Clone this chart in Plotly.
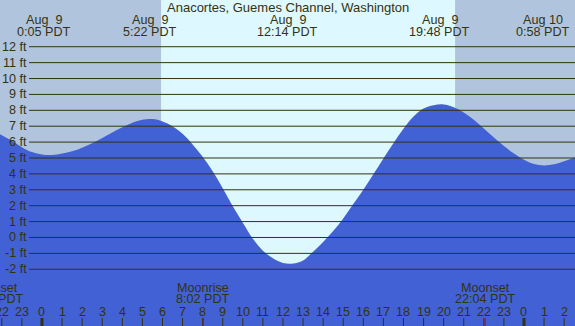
import plotly.graph_objects as go

# ---- data (hours relative to Aug 9 00:00 PDT) ----
hours = [-2.5, -2, -1.5, -1, -0.5, 0, 0.5, 1, 1.5, 2, 2.5, 3, 3.5, 4, 4.5, 5, 5.5, 6, 6.5,
         7, 7.5, 8, 8.5, 9, 9.5, 10, 10.5, 11, 11.5, 12, 12.5, 13, 13.5, 14, 14.5, 15,
         15.5, 16, 16.5, 17, 17.5, 18, 18.5, 19, 19.5, 20, 20.5, 21, 21.5, 22, 22.5,
         23, 23.5, 24, 24.5, 25, 25.5, 26, 26.5, 27]
tide_ft = [6.75, 6.43, 6.08, 5.68, 5.37, 5.22, 5.19, 5.28, 5.43, 5.65, 5.93, 6.26, 6.60, 6.93,
           7.22, 7.41, 7.45, 7.30, 7.00, 6.52, 5.85, 5.08, 4.17, 3.10, 1.96, 0.92, -0.08,
           -0.83, -1.31, -1.60, -1.64, -1.45, -0.90, -0.28, 0.40, 1.20, 2.10, 3.00, 3.97,
           4.97, 5.93, 6.84, 7.61, 8.11, 8.32, 8.37, 8.20, 7.87, 7.40, 6.85, 6.29, 5.75,
           5.29, 4.89, 4.62, 4.53, 4.60, 4.79, 5.01, 5.25]

title = "Anacortes, Guemes Channel, Washington"
tide_hours = [0.083, 5.367, 12.233, 19.8, 24.967]
tide_dates = ["Aug\u00a0\u00a09", "Aug\u00a0\u00a09", "Aug\u00a0\u00a09", "Aug\u00a0\u00a09", "Aug 10"]
tide_times = ["0:05 PDT", "5:22 PDT", "12:14 PDT", "19:48 PDT", "0:58 PDT"]

sunrise_h = 5.93
sunset_h = 20.57

moon_hours = [-2.4, 8.033, 22.067]
moon_names = ["Moonset", "Moonrise", "Moonset"]
moon_times = ["21:36 PDT", "8:02 PDT", "22:04 PDT"]

y_ticks = list(range(-2, 13))
y_tick_labels = [f"{v} ft" for v in y_ticks]

hour_ticks = list(range(-2, 27))
hour_labels = [str(h % 24) for h in hour_ticks]

# ---- style ----
X_RANGE = [-2.09, 26.54]
Y_RANGE = [-5.57, 14.94]
W, H = 575, 326
NIGHT = "#B0C4DE"
DAY = "#DEF8FF"
WATER = "#4161D5"
INK = "#333311"
FONT = "Liberation Sans, Arial, sans-serif"
FS = 12.6
FS_TITLE = 13

fig = go.Figure()
fig.add_trace(go.Scatter(x=[hours[0], hours[-1]], y=[Y_RANGE[0] - 1, Y_RANGE[0] - 1],
                         mode="lines", line=dict(width=0), hoverinfo="skip", showlegend=False))
fig.add_trace(go.Scatter(x=hours, y=tide_ft, mode="lines", line=dict(width=0, shape="spline", color=WATER),
                         fill="tonexty", fillcolor=WATER, hoverinfo="skip", showlegend=False))

shapes = []
shapes.append(dict(type="rect", xref="x", yref="paper", x0=X_RANGE[0], x1=sunrise_h, y0=0, y1=1,
                   fillcolor=NIGHT, line=dict(width=0), layer="below"))
shapes.append(dict(type="rect", xref="x", yref="paper", x0=sunset_h, x1=X_RANGE[1], y0=0, y1=1,
                   fillcolor=NIGHT, line=dict(width=0), layer="below"))
for v in y_ticks:
    shapes.append(dict(type="line", xref="paper", yref="y", x0=29 / W, x1=1, y0=v, y1=v,
                       line=dict(color=INK, width=1), layer="above"))
for h in hour_ticks:
    shapes.append(dict(type="line", xref="x", yref="paper", x0=h, x1=h, y0=0, y1=8 / H,
                       line=dict(color=INK, width=3 if h % 24 == 0 else 1), layer="above"))
for h in moon_hours[1:]:
    shapes.append(dict(type="line", xref="x", yref="paper", x0=h, x1=h, y0=0, y1=8 / H,
                       line=dict(color="#CC0000", width=1), layer="above"))

ann = []
def txt(x, y, s, xref="x", xanchor="center", size=FS):
    ann.append(dict(x=x, y=y, xref=xref, yref="paper", text=s, showarrow=False,
                    xanchor=xanchor, yanchor="middle", borderpad=0,
                    font=dict(family=FONT, size=size, color=INK)))

txt(0.5, 1 - 7.5 / H, title, xref="paper", size=FS_TITLE)
for h, d, t in zip(tide_hours, tide_dates, tide_times):
    txt(h, 1 - 20 / H, d)
    txt(h, 1 - 32 / H, t)
for v, lab in zip(y_ticks, y_tick_labels):
    ann.append(dict(x=28 / W, y=v, xref="paper", yref="y", text=lab, showarrow=False,
                    xanchor="right", yanchor="middle", borderpad=0,
                    font=dict(family=FONT, size=FS, color=INK)))
for h, lab in zip(hour_ticks, hour_labels):
    txt(h, 1 - 312 / H, lab)
for h, n, t in zip(moon_hours, moon_names, moon_times):
    xp = (h - X_RANGE[0]) / (X_RANGE[1] - X_RANGE[0])
    txt(xp, 1 - 287.5 / H, n, xref="paper")
    txt(xp, 1 - 299 / H, t, xref="paper")

fig.update_layout(
    width=W, height=H, margin=dict(l=0, r=0, t=0, b=0),
    plot_bgcolor=DAY, paper_bgcolor=DAY,
    xaxis=dict(range=X_RANGE, visible=False, fixedrange=True),
    yaxis=dict(range=Y_RANGE, visible=False, fixedrange=True),
    shapes=shapes, annotations=ann, showlegend=False,
)
fig.write_html("out.html", config={"displayModeBar": False},
               post_script="document.body.style.margin='0';document.body.style.overflow='hidden';")
